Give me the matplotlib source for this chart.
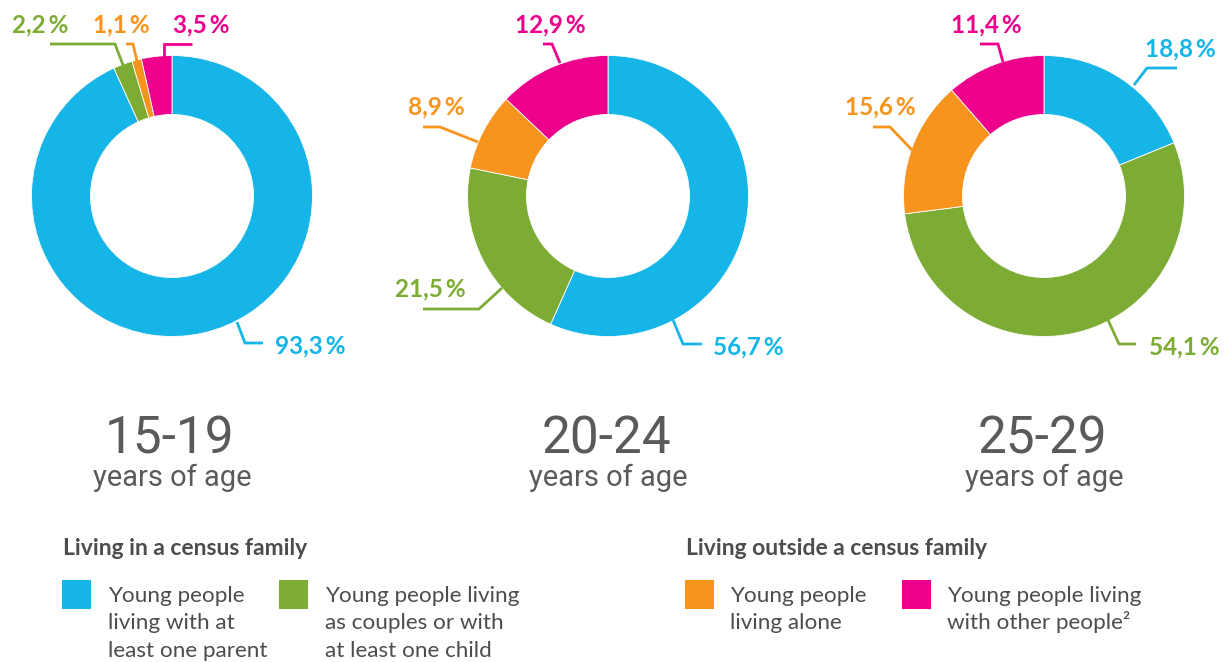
import matplotlib
matplotlib.use("Agg")
import matplotlib.pyplot as plt
import numpy as np

# ---------------- data ----------------
age_groups = ["15-19", "20-24", "25-29"]
subtitle = "years of age"
categories = ["Young people living with at least one parent",
              "Young people living as couples or with at least one child",
              "Young people living alone",
              "Young people living with other people"]
with_parent = [93.3, 56.7, 18.8]
couples_child = [2.2, 21.5, 54.1]
alone = [1.1, 8.9, 15.6]
other_people = [3.5, 12.9, 11.4]

legend_group_titles = ["Living in a census family", "Living outside a census family"]
legend_texts = [["Young people", "living with at", "least one parent"],
                ["Young people living", "as couples or with", "at least one child"],
                ["Young people", "living alone"],
                ["Young people living", "with other people\u00b2"]]

colors = ["#16b5e8", "#7dac35", "#f7941d", "#ec008c"]
text_gray = "#4d4d4d"
title_gray = "#5a5a5a"

# ---------------- layout (pixels) ----------------
W, H = 1227, 662
centers_x = [172, 608, 1044]
center_y = 196
R_OUT = 140.5
RING_W = 59

# label layout per chart, per category: (text_x_left, baseline_y, anchor, elbow, end)
label_layout = [
    [  # chart 1
        (275, 353, (237, 322), (245, 343), (263, 343)),
        (12, 32, (123, 65), (115, 44), (50, 44)),
        (93, 32, (137, 61), (133, 44), (126, 44)),
        (173, 32, (164, 57), (164, 44), (192, 44)),
    ],
    [  # chart 2
        (713, 354, (673, 320), (683, 344), (702, 344)),
        (395, 296, (502, 288), (479, 309), (423, 309)),
        (408, 114, (478, 142), (440, 127), (423, 127)),
        (515, 32, (560, 63), (552, 44), (543, 44)),
    ],
    [  # chart 3
        (1145, 56, (1134, 85), (1147, 68), (1177, 68)),
        (1149, 354, (1108, 320), (1119, 344), (1136, 344)),
        (845, 114, (912, 150), (890, 127), (873, 127)),
        (951, 32, (1003, 62), (998, 44), (980, 44)),
    ],
]

def Y(y):
    return H - y

fig = plt.figure(figsize=(W / 100, H / 100), dpi=100)
ax = fig.add_axes([0, 0, 1, 1])

pct_font = dict(family=["Lato", "DejaVu Sans"], fontsize=17.5, fontweight="bold")

series = [with_parent, couples_child, alone, other_people]
for i, cx in enumerate(centers_x):
    vals = [s[i] for s in series]
    ax.pie(vals, colors=colors, startangle=90, counterclock=False,
           radius=R_OUT, center=(cx, Y(center_y)),
           wedgeprops=dict(width=RING_W, edgecolor="white", linewidth=0.6))
    for k, (tx, ty, a, e, en) in enumerate(label_layout[i]):
        ax.plot([a[0], e[0], en[0]], [Y(a[1]), Y(e[1]), Y(en[1])],
                color=colors[k], lw=2.0, solid_capstyle="butt",
                solid_joinstyle="miter")
        lbl = f"{vals[k]:.1f}".replace(".", ",") + "\u2009%"
        ax.text(tx, Y(ty), lbl, color=colors[k], ha="left", va="baseline",
                **pct_font)
    ax.text(cx - 2, Y(454), age_groups[i], ha="center", va="baseline",
            fontsize=37, family=["Roboto", "DejaVu Sans"],
            fontweight="normal", color=title_gray)
    ax.text(cx, Y(486), subtitle, ha="center", va="baseline",
            fontsize=21, family=["Roboto", "DejaVu Sans"], fontweight="normal",
            color=title_gray)

# ---------------- legend ----------------
leg_font = dict(family=["Lato", "DejaVu Sans"], color=text_gray)
ax.text(63, Y(555), legend_group_titles[0], ha="left", va="baseline",
        fontsize=16.5, fontweight="bold", **leg_font)
ax.text(686, Y(555), legend_group_titles[1], ha="left", va="baseline",
        fontsize=16.5, fontweight="bold", **leg_font)

sq_x = [62, 279, 685, 902]
txt_x = [108, 325, 730, 947]
baselines = [602, 629, 657]
for k in range(4):
    ax.add_patch(plt.Rectangle((sq_x[k], Y(609)), 29, 29, color=colors[k], lw=0))
    for j, line in enumerate(legend_texts[k]):
        ax.text(txt_x[k], Y(baselines[j]), line, ha="left", va="baseline",
                fontsize=16.2, **leg_font)

ax.set_xlim(0, W)
ax.set_ylim(0, H)
ax.set_aspect("equal")
ax.axis("off")
fig.savefig("out.png", dpi=100, facecolor="white")
